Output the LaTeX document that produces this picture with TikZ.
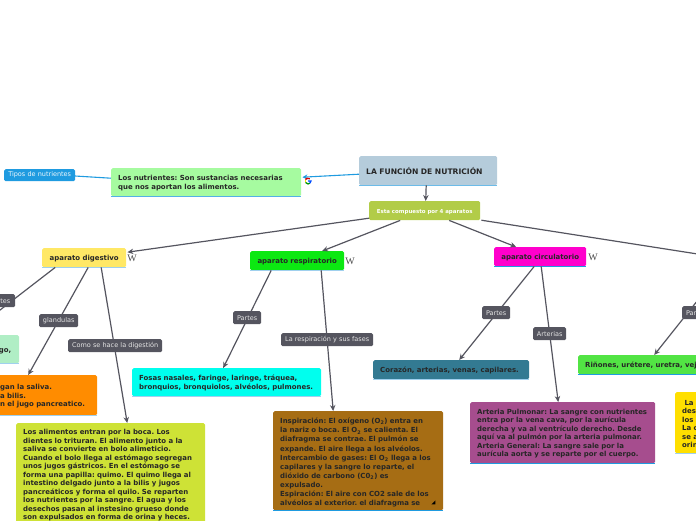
\documentclass[tikz,border=0pt]{standalone}
\usepackage{fontspec}
\setmainfont{DejaVu Sans}
\usetikzlibrary{arrows.meta}
\definecolor{conn}{HTML}{55555F}
\definecolor{ublue}{HTML}{1F9BE0}
\definecolor{upale}{HTML}{A0D0EE}
\newfontfamily\wfont{Liberation Serif}
\newcommand{\bodyfont}{\fontsize{6.95}{8.5}\selectfont\bfseries\frenchspacing\hyphenpenalty=10000\exhyphenpenalty=10000\relax}
\newcommand{\labfont}{\fontsize{6.5}{7}\selectfont}
\tikzset{
  box/.style={anchor=north west,rounded corners=1.5pt,inner xsep=7pt,inner ysep=0pt,align=left,text=black!85,font=\bodyfont,execute at begin node={\rule{0pt}{7.5pt}}},
  ul/.style={append after command={(\tikzlastnode.south west) edge[draw=#1,line width=1.2pt] (\tikzlastnode.south east)}},
  lab/.style={anchor=north west,fill=conn,rounded corners=1.5pt,inner xsep=0pt,inner ysep=0pt,align=center,text=white!90!black,font=\labfont,minimum height=13pt},
  conn/.style={draw=conn,line width=1.2pt,-{Stealth[length=6pt,width=5.5pt]}},
  link/.style={draw=ublue,line width=1.1pt},
  wiki/.style={font=\wfont\fontsize{10}{10}\selectfont,text=black!70,inner sep=0pt},
}
\begin{document}
\begin{tikzpicture}[x=1pt,y=-1pt]
\useasboundingbox (0,0) rectangle (696,520);
\clip (0,0) rectangle (696,520);
% boxes
\node[box,ul=upale!60!ublue,fill={rgb,255:red,181;green,204;blue,219},text width=124pt,minimum height=29pt,font=\fontsize{7.6}{9}\selectfont\bfseries] (title) at (359,156) {LA FUNCIÓN DE NUTRICIÓN};
\node[box,ul=upale!40!ublue,fill={rgb,255:red,166;green,251;blue,160},text width=176pt,minimum height=28pt] (nutr) at (111,168) {Los nutrientes: Son sustancias necesarias\\que nos aportan los alimentos.};
\node[box,fill={rgb,255:red,178;green,204;blue,72},text width=97pt,minimum height=19pt,text=white,font=\fontsize{5.45}{6}\selectfont\bfseries,align=center] (esta) at (369,201) {Esta compuesto por 4 aparatos};
\node[box,ul=upale,fill={rgb,255:red,255;green,232;blue,102},text width=70pt,minimum height=19pt,align=center] (dig) at (42,248) {aparato digestivo};
\node[box,ul=upale,fill={rgb,255:red,12;green,232;blue,18},text width=80pt,minimum height=19pt,align=center] (resp) at (250,251) {aparato respiratorio};
\node[box,ul=ublue,fill={rgb,255:red,255;green,0;blue,204},text width=78pt,minimum height=19pt,align=center] (circ) at (494,247) {aparato circulatorio};
\coordinate (excin) at (704,255);
\coordinate (excout) at (725,266);
\node[box,ul=upale,fill={rgb,255:red,176;green,238;blue,197},inner xsep=8pt,text width=43pt,minimum height=28pt,align=right] (boca) at (-40,335) {go,};
\node[box,ul=upale,fill={rgb,255:red,255;green,140;blue,0},inner xsep=10pt,text width=87pt,minimum height=40pt] (glan) at (-10,375) {gan la saliva.\\a bilis.\\n el jugo pancreatico.};
\node[box,ul=upale,fill={rgb,255:red,206;green,226;blue,54},text width=175pt,minimum height=102pt] (dige) at (16,423) {Los alimentos entran por la boca. Los\\dientes lo trituran. El alimento junto a la\\saliva se convierte en bolo alimeticio.\\Cuando el bolo llega al estómago segregan\\unos jugos gástricos. En el estómago se\\forma una papilla: quimo. El quimo llega al\\intestino delgado junto a la bilis y jugos\\pancreáticos y forma el quilo. Se reparten\\los nutrientes por la sangre. El agua y los\\desechos pasan al instesino grueso donde\\son expulsados en forma de orina y heces.};
\node[box,ul=upale,fill={rgb,255:red,0;green,255;blue,238},text width=175pt,minimum height=28pt] (fosas) at (132,368) {Fosas nasales, faringe, laringe, tráquea,\\bronquios, bronquiolos, alvéolos, pulmones.};
\node[box,ul=ublue,fill={rgb,255:red,166;green,109;blue,20},text width=156pt,minimum height=99pt,font=\fontsize{6.95}{9.1}\selectfont\bfseries\frenchspacing] (fases) at (273,411) {\rule{0pt}{9.5pt}Inspiración: El oxígeno (O\textsubscript{2}) entra en\\la nariz o boca. El O\textsubscript{2} se calienta. El\\diafragma se contrae. El pulmón se\\expande. El aire llega a los alvéolos.\\Intercambio de gases: El O\textsubscript{2} llega a los\\capilares y la sangre lo reparte, el\\dióxido de carbono (C0\textsubscript{2}) es\\expulsado.\\Espiración: El aire con CO2 sale de los\\alvéolos al exterior. el diafragma se};
\node[box,ul=upale,fill={rgb,255:red,51;green,122;blue,146},text width=142pt,minimum height=19pt] (cora) at (373,360) {Corazón, arterias, venas, capilares.};
\node[box,ul=ublue,fill={rgb,255:red,166;green,77;blue,142},text width=171pt,minimum height=61pt] (arte) at (470,402) {Arteria Pulmonar: La sangre con nutrientes\\entra por la vena cava, por la aurícula\\derecha y va al ventrículo derecho. Desde\\aquí va al pulmón por la arteria pulmonar.\\Arteria General: La sangre sale por la\\aurícula aorta y se reparte por el cuerpo.};
\node[box,ul=ublue,fill={rgb,255:red,82;green,228;blue,68},text width=180pt,minimum height=19pt] (rin) at (578,355) {Riñones, urétere, uretra, vejiga};
\node[box,ul=upale,fill={rgb,255:red,255;green,223;blue,0},text width=60pt,minimum height=61pt] (excr) at (675,392) {\ La\\des\\los\\La c\\se a\\orin};
% connectors
\draw[conn] ([xshift=-2pt]title.south) -- ([xshift=1pt]esta.north);
\draw[link,-{Stealth[length=5pt,width=5pt]}] ([yshift=-3.5pt]title.west) -- ([xshift=1pt,yshift=5pt]nutr.east);
\draw[link] ([yshift=4pt]nutr.west) -- (75,176) coordinate (tiposend);
\draw[conn] ([yshift=-7.5pt]esta.west) -- ([xshift=1pt,yshift=5.5pt]dig.east);
\draw[conn] ([xshift=-24.5pt]esta.south) -- ([xshift=25pt]resp.north);
\draw[conn] ([xshift=24.5pt]esta.south) -- ([xshift=-24pt]circ.north);
\draw[conn] ([xshift=1pt,yshift=-9.5pt]esta.east) -- (excin);
\draw[conn] ([xshift=-29pt]dig.south) -- ([xshift=-22pt]boca.north);
\draw[conn] ([xshift=4pt]dig.south) -- ([xshift=-15.5pt]glan.north);
\draw[conn] ([xshift=17pt]dig.south) -- ([xshift=16.5pt]dige.north);
\draw[conn] ([xshift=-26pt]resp.south) -- ([xshift=-3.5pt]fosas.north);
\draw[conn] ([xshift=24pt]resp.south) -- ([xshift=-25pt]fases.north);
\draw[conn] ([xshift=-6pt]circ.south) -- ([xshift=8pt]cora.north);
\draw[conn] ([xshift=1pt]circ.south) -- ([xshift=-4.5pt]arte.north);
\draw[conn] (excout) -- ([xshift=-21pt]rin.north);
% labels
\node[lab,fill=ublue,text width=71pt,minimum height=12pt,text=white!92!ublue] (tipos) at (4,169) {Tipos de nutrientes};
\node[lab,text width=30pt] (p1) at (-15,294) {Partes};
\node[lab,text width=39pt] (l2) at (39,314) {glandulas};
\node[lab,text width=94pt] (l3) at (68,339) {Como se hace la digestión};
\node[lab,text width=28pt] (l4) at (233,311) {Partes};
\node[lab,text width=92pt] (l5) at (281,333) {La respiración y sus fases};
\node[lab,text width=28pt] (l6) at (482,306) {Partes};
\node[lab,text width=33pt] (l7) at (533,327) {Arterias};
\node[lab,text width=28pt] (l8) at (682,306) {Partes};
% icons
\node[wiki] (w1) at (132,258) {W};
\node[wiki] (w2) at (350,261) {W};
\node[wiki] (w3) at (593,257) {W};
\node[inner sep=0pt,minimum size=7pt] (g) at (308,181) {};
\draw[line width=1.3pt,red!85!black] (g.center) ++(50:2.9pt) arc (50:150:2.9pt);
\draw[line width=1.3pt,yellow!80!orange] (g.center) ++(150:2.9pt) arc (150:210:2.9pt);
\draw[line width=1.3pt,green!60!black] (g.center) ++(210:2.9pt) arc (210:310:2.9pt);
\draw[line width=1.3pt,blue!70!cyan] (g.center) ++(310:2.9pt) arc (310:360:2.9pt) -- (g.center);
\fill[black] ([shift={(-8pt,6pt)}]fases.south east) -- ++(-4,0) -- ++(4,-4) -- cycle;
\end{tikzpicture}
\end{document}
